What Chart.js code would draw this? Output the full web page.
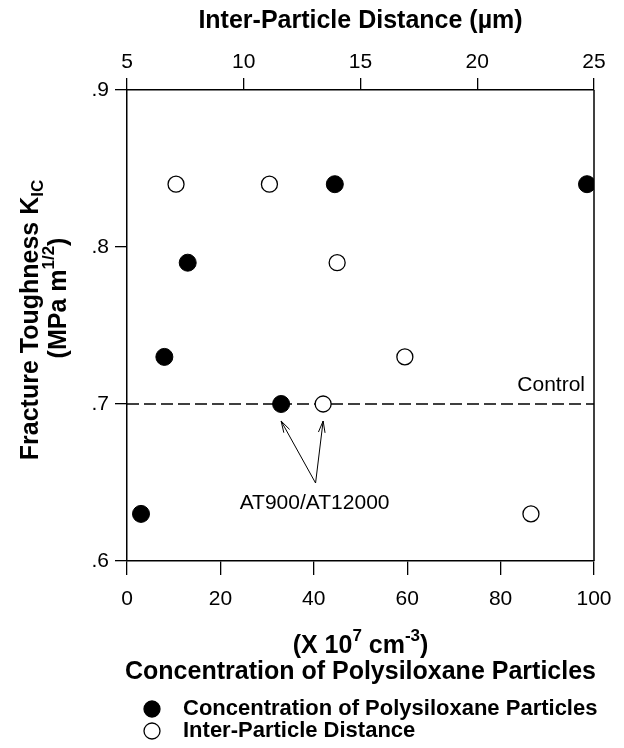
<!DOCTYPE html>
<html>
<head>
<meta charset="utf-8">
<script src="https://cdn.jsdelivr.net/npm/chart.js@4"></script>
<style>
  body { margin: 0; background: #fff; }
  canvas { display: block; }
</style>
</head>
<body>
<canvas id="chartKic" width="624" height="748"></canvas>
<script>
// datos
let concentracion = [3, 8, 13, 33, 44.5, 98.5];
let kicConcentracion = [0.63, 0.73, 0.79, 0.70, 0.84, 0.84];
let distancia = [7.1, 11.1, 14.0, 16.9, 13.4, 22.3];
let kicDistancia = [0.84, 0.84, 0.79, 0.73, 0.70, 0.63];
let controlX = [0, 100];
let controlY = [0.70, 0.70];
let ticksY = [0.6, 0.7, 0.8, 0.9];

const FUENTE = '"Liberation Sans", Arial, sans-serif';

function puntos(xs, ys) {
  return xs.map((x, i) => ({ x: x, y: ys[i] }));
}

// dibuja texto con superindices / subindices, centrado en (x, y)
function textoRico(ctx, partes, x, y, size) {
  let fuente = p => 'bold ' + (p.f ? Math.round(size * 0.66) : size) + 'px ' + FUENTE;
  let anchos = partes.map(p => {
    ctx.font = fuente(p);
    return ctx.measureText(p.t).width;
  });
  let total = anchos.reduce((a, b) => a + b, 0);
  let cx = x - total / 2;
  ctx.textAlign = 'left';
  ctx.textBaseline = 'middle';
  partes.forEach((p, i) => {
    ctx.font = fuente(p);
    let dy = 0;
    if (p.f === 'sup') dy = -size * 0.38;
    if (p.f === 'sub') dy = size * 0.3;
    ctx.fillText(p.t, cx, y + dy);
    cx += anchos[i];
  });
}

function flecha(ctx, x0, y0, x1, y1) {
  ctx.beginPath();
  ctx.moveTo(x0, y0);
  ctx.lineTo(x1, y1);
  let ang = Math.atan2(y1 - y0, x1 - x0);
  let l = 12;
  ctx.moveTo(x1 - l * Math.cos(ang - 0.28), y1 - l * Math.sin(ang - 0.28));
  ctx.lineTo(x1, y1);
  ctx.lineTo(x1 - l * Math.cos(ang + 0.28), y1 - l * Math.sin(ang + 0.28));
  ctx.stroke();
}

const extras = {
  id: 'extras',
  afterDraw(chart) {
    const ctx = chart.ctx;
    const area = chart.chartArea;
    ctx.save();
    ctx.fillStyle = '#000';
    ctx.strokeStyle = '#000';

    // borde derecho
    ctx.lineWidth = 1.5;
    ctx.beginPath();
    ctx.moveTo(area.right, area.top);
    ctx.lineTo(area.right, area.bottom);
    ctx.stroke();

    let cx = (area.left + area.right) / 2;

    // titulos
    textoRico(ctx, [{ t: 'Inter-Particle Distance (\u00b5m)' }], cx, 21, 25);
    textoRico(ctx, [{ t: '(X 10' }, { t: '7', f: 'sup' }, { t: ' cm' }, { t: '-3', f: 'sup' }, { t: ')' }], cx, 646, 25);
    textoRico(ctx, [{ t: 'Concentration of Polysiloxane Particles' }], cx, 672, 25);

    ctx.save();
    ctx.translate(31, 320);
    ctx.rotate(-Math.PI / 2);
    textoRico(ctx, [{ t: 'Fracture Toughness K' }, { t: 'IC', f: 'sub' }], 0, 0, 25);
    ctx.restore();
    ctx.save();
    ctx.translate(59, 298);
    ctx.rotate(-Math.PI / 2);
    textoRico(ctx, [{ t: '(MPa m' }, { t: '1/2', f: 'sup' }, { t: ')' }], 0, 0, 25);
    ctx.restore();

    // etiqueta control
    let yCtl = chart.scales.y.getPixelForValue(controlY[0]);
    ctx.font = '21px ' + FUENTE;
    ctx.textAlign = 'right';
    ctx.textBaseline = 'middle';
    ctx.fillText('Control', area.right - 9, yCtl - 19);

    // flechas AT900/AT12000
    let pA = chart.getDatasetMeta(0).data[3];
    let pB = chart.getDatasetMeta(1).data[4];
    let colaX = pA.x + (pB.x - pA.x) * 0.82;
    let colaY = pA.y + 79;
    ctx.lineWidth = 1;
    flecha(ctx, colaX, colaY, pA.x, pA.y + 17);
    flecha(ctx, colaX, colaY, pB.x, pB.y + 17);
    ctx.textAlign = 'center';
    ctx.fillText('AT900/AT12000', colaX - 1, colaY + 20);

    // leyenda
    let filas = [
      { y: 709, lleno: true, t: 'Concentration of Polysiloxane Particles' },
      { y: 731, lleno: false, t: 'Inter-Particle Distance' }
    ];
    filas.forEach(f => {
      ctx.beginPath();
      ctx.arc(152, f.y, 8, 0, Math.PI * 2);
      ctx.fillStyle = f.lleno ? '#000' : '#fff';
      ctx.fill();
      ctx.lineWidth = 1.3;
      ctx.stroke();
      ctx.fillStyle = '#000';
      ctx.font = 'bold 22px ' + FUENTE;
      ctx.textAlign = 'left';
      ctx.textBaseline = 'middle';
      ctx.fillText(f.t, 183, f.y);
    });
    ctx.restore();
  }
};

function ejeComun(tick, pad) {
  return {
    grid: { drawOnChartArea: false, drawTicks: true, tickLength: tick, color: '#000', lineWidth: 1.3 },
    border: { display: true, color: '#000', width: 1.5 },
    ticks: { color: '#000', padding: pad, font: { family: FUENTE, size: 21 } }
  };
}

function grafico() {
  const canvas = document.getElementById('chartKic');
  let ejeX = ejeComun(14, 12);
  ejeX.ticks.stepSize = 20;
  let ejeX2 = ejeComun(12, 3);
  ejeX2.ticks.stepSize = 5;
  let ejeY = ejeComun(12, 6);
  ejeY.ticks.callback = v => '.' + Math.round(v * 10);

  new Chart(canvas, {
    type: 'scatter',
    data: {
      datasets: [
        {
          label: 'Concentration of Polysiloxane Particles',
          data: puntos(concentracion, kicConcentracion),
          xAxisID: 'x', yAxisID: 'y',
          pointRadius: 8.5, pointHoverRadius: 8.5,
          backgroundColor: '#000', borderColor: '#000', borderWidth: 1,
          order: 1
        },
        {
          label: 'Inter-Particle Distance',
          data: puntos(distancia, kicDistancia),
          xAxisID: 'x2', yAxisID: 'y',
          pointRadius: 8, pointHoverRadius: 8,
          backgroundColor: '#fff', borderColor: '#000', borderWidth: 1.3,
          order: 1
        },
        {
          type: 'line',
          label: 'Control',
          data: puntos(controlX, controlY),
          xAxisID: 'x', yAxisID: 'y',
          borderColor: '#000', borderWidth: 1.3, borderDash: [12, 5],
          pointRadius: 0, fill: false,
          order: 3
        }
      ]
    },
    options: {
      responsive: false,
      animation: false,
      devicePixelRatio: 1,
      layout: { padding: { top: 0, right: 30, bottom: 0, left: 0 } },
      plugins: { legend: { display: false }, tooltip: { enabled: false } },
      scales: {
        x: Object.assign(ejeX, {
          type: 'linear', position: 'bottom', min: 0, max: 100,
          afterFit: s => { s.height = 187; }
        }),
        x2: Object.assign(ejeX2, {
          type: 'linear', position: 'top', min: 5, max: 25,
          afterFit: s => { s.height = 90; }
        }),
        y: Object.assign(ejeY, {
          type: 'linear', position: 'left', min: 0.6, max: 0.9,
          afterFit: s => { s.width = 127; },
          afterBuildTicks: s => { s.ticks = ticksY.map(v => ({ value: v })); }
        })
      }
    },
    plugins: [extras]
  });
}

grafico();
</script>
</body>
</html>
